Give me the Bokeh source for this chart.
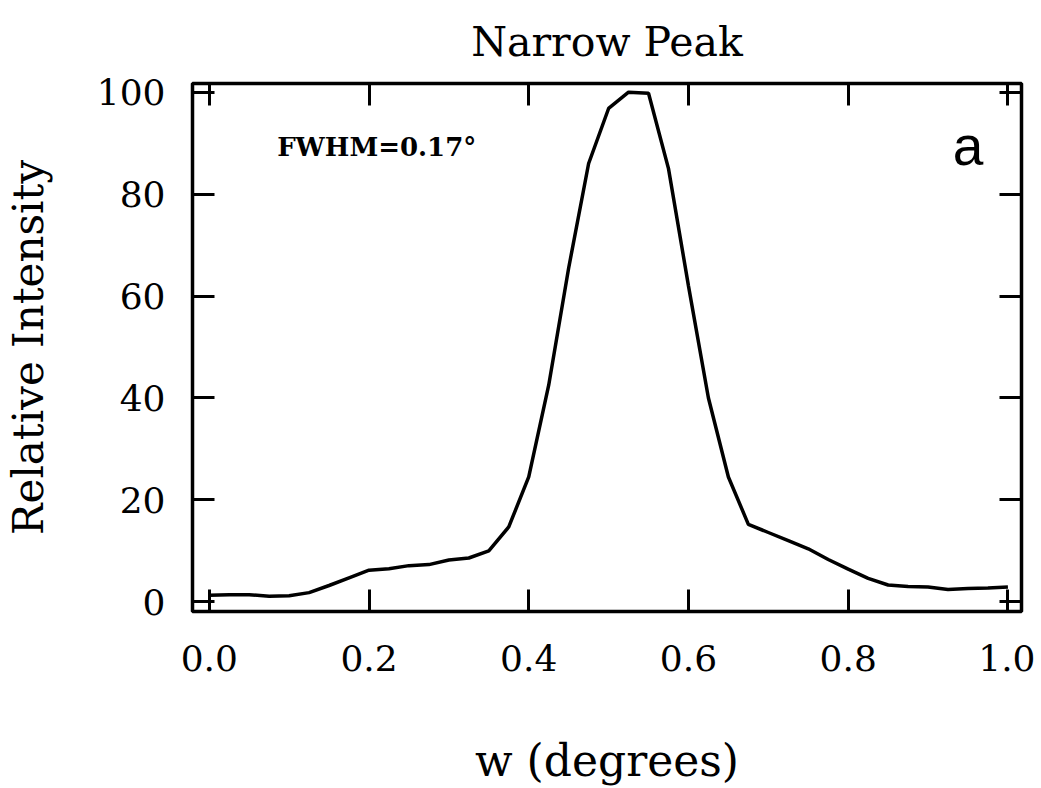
from bokeh.plotting import figure
from bokeh.models import LinearAxis, Label, Range1d, FixedTicker
from bokeh.embed import file_html
from bokeh.resources import INLINE

# data
w_deg = [0.000, 0.025, 0.050, 0.075, 0.100, 0.125, 0.150, 0.175, 0.200, 0.225,
         0.250, 0.275, 0.300, 0.325, 0.350, 0.375, 0.400, 0.425, 0.450, 0.475,
         0.500, 0.525, 0.550, 0.575, 0.600, 0.625, 0.650, 0.675, 0.700, 0.725,
         0.750, 0.775, 0.800, 0.825, 0.850, 0.875, 0.900, 0.925, 0.950, 0.975,
         1.000]
intensity = [1.3, 1.4, 1.4, 1.1, 1.2, 1.8, 3.2, 4.7, 6.2, 6.5,
             7.1, 7.3, 8.2, 8.6, 10.0, 14.7, 24.5, 42.5, 65.5, 86.0,
             96.8, 100.0, 99.8, 85.0, 62.0, 40.0, 24.5, 15.2, 13.6, 12.0,
             10.4, 8.3, 6.4, 4.6, 3.3, 3.0, 2.9, 2.4, 2.6, 2.7,
             2.9]
x_ticks = [0.0, 0.2, 0.4, 0.6, 0.8, 1.0]
y_ticks = [0, 20, 40, 60, 80, 100]
title_text = "Narrow Peak"
x_label = "w (degrees)"
y_label = "Relative Intensity"
fwhm_text = "FWHM=0.17\u00b0"
panel_text = "a"

SERIF = "DejaVu Serif"
W, H = 1035, 788

p = figure(width=W, height=H, output_backend="svg", toolbar_location=None,
           x_range=Range1d(-0.021, 1.017), y_range=Range1d(-1.9, 101.7),
           min_border_left=190, min_border_right=W - 1021, min_border_top=83,
           min_border_bottom=H - 611)
p.background_fill_color = "white"
p.border_fill_color = "white"
p.outline_line_color = "black"
p.outline_line_width = 3.5
p.xgrid.visible = False
p.ygrid.visible = False

p.title.text = title_text
p.title.align = "center"
p.title.vertical_align = "top"
p.title.text_font = SERIF
p.title.text_font_size = "41px"
p.title.text_font_style = "normal"
p.title.text_color = "black"
p.title.standoff = 31

p.line(w_deg, intensity, line_color="black", line_width=3.5)

def style_axis(ax, labels=True):
    ax.major_tick_in = 22
    ax.major_tick_out = 0
    ax.minor_tick_in = 0
    ax.minor_tick_out = 0
    ax.major_tick_line_width = 3
    ax.major_tick_line_color = "black"
    ax.axis_line_color = None
    ax.major_label_text_font = SERIF
    ax.major_label_text_color = "black"
    if labels:
        ax.major_label_text_font_size = "36px"
    else:
        ax.major_label_text_font_size = "1px"
        ax.major_label_standoff = 0

xa = p.xaxis[0]
xa.ticker = FixedTicker(ticks=x_ticks)
style_axis(xa)
xa.major_label_overrides = {t: f"{t:.1f}" for t in x_ticks}
xa.major_label_standoff = 33
xa.axis_label = x_label
xa.axis_label_text_font = SERIF
xa.axis_label_text_font_size = "44px"
xa.axis_label_text_font_style = "normal"
xa.axis_label_text_color = "black"
xa.axis_label_standoff = 61

ya = p.yaxis[0]
ya.ticker = FixedTicker(ticks=y_ticks)
style_axis(ya)
ya.major_label_standoff = 27
ya.axis_label = y_label
ya.axis_label_text_font = SERIF
ya.axis_label_text_font_size = "42px"
ya.axis_label_text_font_style = "normal"
ya.axis_label_text_color = "black"
ya.axis_label_standoff = 41

top = LinearAxis(ticker=FixedTicker(ticks=x_ticks))
style_axis(top, labels=False)
top.major_label_overrides = {t: "" for t in x_ticks}
p.add_layout(top, "above")
right = LinearAxis(ticker=FixedTicker(ticks=y_ticks))
style_axis(right, labels=False)
right.major_label_overrides = {t: "" for t in y_ticks}
p.add_layout(right, "right")

p.add_layout(Label(x=0.085, y=89.2, text=fwhm_text, text_font=SERIF,
                   text_font_size="26px", text_font_style="bold",
                   text_baseline="middle", text_align="left", text_color="black"))
p.add_layout(Label(x=0.95, y=89.4, text=panel_text, text_font="Liberation Sans",
                   text_font_size="55px", text_baseline="alphabetic",
                   text_align="center", text_color="black"))

open("out.html", "w").write(file_html(p, INLINE))
